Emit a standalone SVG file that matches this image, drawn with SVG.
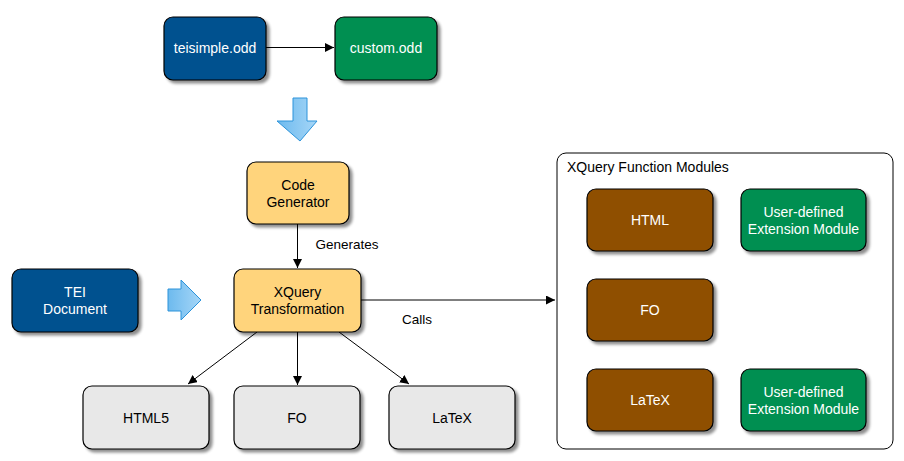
<svg xmlns="http://www.w3.org/2000/svg" width="904" height="461" viewBox="0 0 904 461">
<defs>
<style>
.n{stroke:#000;stroke-width:1.2;filter:url(#sh)}
.blue{fill:#02518F}
.green{fill:#008F51}
.brown{fill:#8F5000}
.yellow{fill:#FFD47C}
.gray{fill:#E8E8E8}
text{font-family:"Liberation Sans",Arial,sans-serif;font-size:14px;text-anchor:middle}
.w{fill:#fff}
.k{fill:#000}
.e{stroke:#000;stroke-width:1;fill:none;marker-end:url(#ah)}
.big{fill:url(#bg);stroke:#2C93DA;stroke-width:1}
</style>
<filter id="sh" x="-10%" y="-10%" width="130%" height="130%">
<feGaussianBlur in="SourceAlpha" stdDeviation="1.5"/>
<feOffset dx="3" dy="3" result="b"/>
<feComponentTransfer><feFuncA type="linear" slope="0.45"/></feComponentTransfer>
<feMerge><feMergeNode/><feMergeNode in="SourceGraphic"/></feMerge>
</filter>
<marker id="ah" viewBox="0 0 10 10" refX="10" refY="5" markerWidth="9" markerHeight="9" markerUnits="userSpaceOnUse" orient="auto">
<path d="M0,0 L10,5 L0,10 z" fill="#000"/>
</marker>
<linearGradient id="bg" x1="0" y1="0" x2="1" y2="0">
<stop offset="0" stop-color="#6DBAEE"/>
<stop offset="1" stop-color="#A6D6F7"/>
</linearGradient>
</defs>

<g id="connectors">
<path class="e" d="M266,47.5 L334,47.5"/>
<path class="e" d="M297.5,224 L297.5,268"/>
<path class="e" d="M361,300 L555,300"/>
<path class="e" d="M257,332 L188,384"/>
<path class="e" d="M297.5,332 L297.5,385"/>
<path class="e" d="M339,332 L409,384"/>
<text class="k" x="347" y="249" style="font-size:13.5px">Generates</text>
<text class="k" x="417" y="324" style="font-size:13.5px">Calls</text>
</g>

<g id="arrow-down">
<path class="big" d="M293,98 L307,98 L307,121 L317,121 L300,141 L277,121 L293,121 z" transform="translate(0,0)"/>
</g>
<g id="arrow-right">
<path class="big" d="M168,289 L181,289 L181,280 L201,300 L181,320 L181,311 L168,311 z"/>
</g>

<g id="teisimple">
<rect class="n blue" x="164" y="17" width="102" height="63" rx="9"/>
<text class="w" x="215" y="53">teisimple.odd</text>
</g>
<g id="custom">
<rect class="n green" x="335" y="17" width="102" height="63" rx="9"/>
<text class="w" x="386" y="53">custom.odd</text>
</g>
<g id="codegen">
<rect class="n yellow" x="247" y="162" width="102" height="62" rx="9"/>
<text class="k" x="298" y="190">Code</text>
<text class="k" x="298" y="207">Generator</text>
</g>
<g id="tei">
<rect class="n blue" x="12" y="269" width="126" height="63" rx="9"/>
<text class="w" x="75" y="297">TEI</text>
<text class="w" x="75" y="314">Document</text>
</g>
<g id="xquery">
<rect class="n yellow" x="234" y="269" width="127" height="63" rx="9"/>
<text class="k" x="297.5" y="297">XQuery</text>
<text class="k" x="297.5" y="314">Transformation</text>
</g>
<g id="html5">
<rect class="n gray" x="83" y="386" width="126" height="63" rx="9"/>
<text class="k" x="146" y="423">HTML5</text>
</g>
<g id="fo-out">
<rect class="n gray" x="234" y="386" width="126" height="63" rx="9"/>
<text class="k" x="297" y="423">FO</text>
</g>
<g id="latex-out">
<rect class="n gray" x="389" y="386" width="126" height="63" rx="9"/>
<text class="k" x="452" y="423">LaTeX</text>
</g>

<g id="modules">
<rect x="557" y="153" width="336" height="296" rx="9" fill="#fff" stroke="#000" stroke-width="1"/>
<text class="k" x="567" y="172" style="text-anchor:start">XQuery Function Modules</text>
</g>
<g id="mod-html">
<rect class="n brown" x="587" y="189" width="126" height="62" rx="9"/>
<text class="w" x="650" y="225">HTML</text>
</g>
<g id="mod-user1">
<rect class="n green" x="741" y="189" width="125" height="62" rx="9"/>
<text class="w" x="803.5" y="217">User-defined</text>
<text class="w" x="803.5" y="234">Extension Module</text>
</g>
<g id="mod-fo">
<rect class="n brown" x="587" y="279" width="126" height="62" rx="9"/>
<text class="w" x="650" y="315">FO</text>
</g>
<g id="mod-latex">
<rect class="n brown" x="587" y="369" width="126" height="62" rx="9"/>
<text class="w" x="650" y="405">LaTeX</text>
</g>
<g id="mod-user2">
<rect class="n green" x="741" y="369" width="125" height="62" rx="9"/>
<text class="w" x="803.5" y="397">User-defined</text>
<text class="w" x="803.5" y="414">Extension Module</text>
</g>
</svg>
